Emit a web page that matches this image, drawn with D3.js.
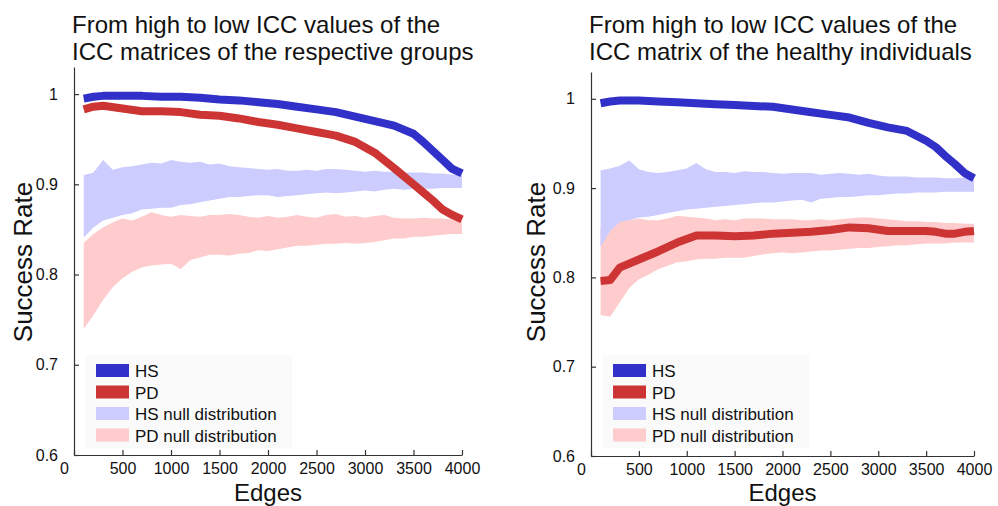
<!DOCTYPE html>
<html>
<head>
<meta charset="utf-8">
<script src="https://cdn.jsdelivr.net/npm/d3@7"></script>
<style>
body { margin: 0; background: #fff; }
svg { display: block; font-family: "Liberation Sans", Arial, Helvetica, sans-serif; }
</style>
</head>
<body>
<svg id="chart" width="998" height="506"></svg>
<script>
// x values (number of edges)
var lineEdges = [100, 200, 300, 500, 700, 900, 1100, 1300, 1500, 1700, 1900, 2100,
    2300, 2500, 2700, 2900, 3100, 3300, 3500, 3600, 3700, 3800, 3900, 4000];
var bandEdges = [100, 200, 300, 400, 500, 600, 700, 800, 900, 1000, 1100, 1200, 1300,
    1400, 1500, 1600, 1700, 1800, 1900, 2000, 2100, 2200, 2300, 2400, 2500, 2600, 2700,
    2800, 2900, 3000, 3100, 3200, 3300, 3400, 3500, 3600, 3700, 3800, 3900, 4000];

// left panel: ICC matrices of the respective groups
var leftHS = [0.995, 0.997, 0.998, 0.998, 0.998, 0.997, 0.997, 0.996, 0.994, 0.993, 0.991, 0.989,
    0.986, 0.983, 0.980, 0.975, 0.970, 0.965, 0.956, 0.947, 0.937, 0.927, 0.917, 0.912];
var leftPD = [0.983, 0.986, 0.987, 0.984, 0.981, 0.981, 0.980, 0.977, 0.976, 0.973, 0.969, 0.966,
    0.962, 0.958, 0.954, 0.947, 0.935, 0.918, 0.900, 0.891, 0.882, 0.872, 0.866, 0.861];
var leftHSNullHi = [0.910, 0.913, 0.927, 0.916, 0.919, 0.920, 0.922, 0.924, 0.923, 0.927, 0.925,
    0.924, 0.925, 0.922, 0.923, 0.920, 0.919, 0.918, 0.917, 0.916, 0.917, 0.915, 0.915, 0.916,
    0.915, 0.917, 0.917, 0.916, 0.915, 0.914, 0.915, 0.914, 0.914, 0.913, 0.913, 0.913, 0.912,
    0.912, 0.911, 0.910];
var leftHSNullLo = [0.841, 0.852, 0.860, 0.863, 0.866, 0.868, 0.872, 0.873, 0.874, 0.874, 0.877,
    0.878, 0.880, 0.882, 0.884, 0.886, 0.886, 0.887, 0.888, 0.888, 0.886, 0.887, 0.888, 0.889,
    0.890, 0.891, 0.890, 0.891, 0.892, 0.893, 0.892, 0.894, 0.895, 0.894, 0.895, 0.895, 0.895,
    0.896, 0.896, 0.896];
var leftPDNullHi = [0.835, 0.845, 0.852, 0.858, 0.862, 0.860, 0.864, 0.869, 0.866, 0.864, 0.866,
    0.865, 0.864, 0.866, 0.866, 0.867, 0.866, 0.864, 0.863, 0.865, 0.863, 0.864, 0.866, 0.864,
    0.863, 0.866, 0.867, 0.864, 0.865, 0.863, 0.865, 0.866, 0.863, 0.862, 0.862, 0.863, 0.862,
    0.862, 0.861, 0.861];
var leftPDNullLo = [0.740, 0.755, 0.772, 0.786, 0.796, 0.803, 0.808, 0.810, 0.811, 0.812, 0.806,
    0.816, 0.819, 0.822, 0.822, 0.821, 0.823, 0.824, 0.827, 0.826, 0.828, 0.830, 0.832, 0.832,
    0.833, 0.834, 0.834, 0.835, 0.834, 0.835, 0.836, 0.838, 0.840, 0.840, 0.842, 0.842, 0.843,
    0.844, 0.845, 0.845];

// right panel: ICC matrix of the healthy individuals
var rightHS = [0.995, 0.997, 0.998, 0.998, 0.997, 0.996, 0.995, 0.994, 0.993, 0.992, 0.991, 0.988,
    0.985, 0.982, 0.979, 0.973, 0.968, 0.964, 0.953, 0.946, 0.936, 0.927, 0.917, 0.911];
var rightPD = [0.796, 0.797, 0.811, 0.820, 0.829, 0.839, 0.847, 0.847, 0.846, 0.847, 0.849, 0.850,
    0.851, 0.853, 0.856, 0.855, 0.852, 0.852, 0.852, 0.851, 0.849, 0.849, 0.851, 0.852];
var rightHSNullHi = [0.920, 0.922, 0.925, 0.931, 0.921, 0.918, 0.917, 0.918, 0.920, 0.922, 0.928,
    0.921, 0.918, 0.918, 0.917, 0.919, 0.918, 0.918, 0.917, 0.916, 0.917, 0.917, 0.917, 0.915,
    0.916, 0.917, 0.916, 0.915, 0.916, 0.914, 0.913, 0.913, 0.913, 0.912, 0.912, 0.912, 0.911,
    0.911, 0.912, 0.911];
var rightHSNullLo = [0.834, 0.852, 0.862, 0.864, 0.867, 0.868, 0.870, 0.872, 0.874, 0.876, 0.877,
    0.878, 0.879, 0.880, 0.881, 0.882, 0.883, 0.884, 0.884, 0.885, 0.886, 0.887, 0.884, 0.888,
    0.889, 0.890, 0.890, 0.891, 0.892, 0.892, 0.893, 0.894, 0.894, 0.895, 0.895, 0.895, 0.896,
    0.896, 0.896, 0.896];
var rightPDNullHi = [0.856, 0.861, 0.863, 0.864, 0.866, 0.864, 0.864, 0.866, 0.869, 0.868, 0.867,
    0.866, 0.864, 0.865, 0.864, 0.866, 0.866, 0.866, 0.865, 0.865, 0.865, 0.864, 0.864, 0.865,
    0.864, 0.865, 0.866, 0.867, 0.867, 0.866, 0.865, 0.864, 0.863, 0.863, 0.862, 0.862, 0.861,
    0.861, 0.860, 0.860];
var rightPDNullLo = [0.758, 0.756, 0.772, 0.788, 0.798, 0.803, 0.809, 0.813, 0.817, 0.818, 0.820,
    0.821, 0.821, 0.822, 0.822, 0.822, 0.824, 0.826, 0.827, 0.828, 0.827, 0.828, 0.829, 0.830,
    0.830, 0.831, 0.832, 0.833, 0.833, 0.834, 0.835, 0.836, 0.836, 0.837, 0.838, 0.838, 0.838,
    0.839, 0.839, 0.839];

var xTicks = [0, 500, 1000, 1500, 2000, 2500, 3000, 3500, 4000];
var yTicks = [0.6, 0.7, 0.8, 0.9, 1];
var legendLabels = ['HS', 'PD', 'HS null distribution', 'PD null distribution'];
var titles = [
    ['From high to low ICC values of the', 'ICC matrices of the respective groups'],
    ['From high to low ICC values of the', 'ICC matrix of the healthy individuals']
];

var COLORS = { hs: '#3131c9', pd: '#cd3434', hsNull: '#ccccfe', pdNull: '#fecccc' };
var legendColors = [COLORS.hs, COLORS.pd, COLORS.hsNull, COLORS.pdNull];

var panels = [
    { left: 74, right: 462, top: 67, bottom: 455, ylabelX: 32, title: titles[0],
      hs: leftHS, pd: leftPD, hsHi: leftHSNullHi, hsLo: leftHSNullLo, pdHi: leftPDNullHi, pdLo: leftPDNullLo },
    { left: 591, right: 974, top: 72, bottom: 456, ylabelX: 545, title: titles[1],
      hs: rightHS, pd: rightPD, hsHi: rightHSNullHi, hsLo: rightHSNullLo, pdHi: rightPDNullHi, pdLo: rightPDNullLo }
];

var svg = d3.select('#chart');

panels.forEach(function(p) {
    var x = d3.scaleLinear().domain([0, 4000]).range([p.left, p.right]);
    var y = d3.scaleLinear().domain([0.6, 1.03]).range([p.bottom, p.top]);
    var g = svg.append('g');

    // Null distribution bands
    var area = function(hi, lo) {
        return d3.area()
            .x(function(d, i) { return x(bandEdges[i]); })
            .y0(function(d, i) { return y(lo[i]); })
            .y1(function(d, i) { return y(hi[i]); })(hi);
    };
    g.append('path').attr('d', area(p.pdHi, p.pdLo)).attr('fill', COLORS.pdNull);
    g.append('path').attr('d', area(p.hsHi, p.hsLo)).attr('fill', COLORS.hsNull);

    // Success rate lines
    var line = d3.line()
        .x(function(d, i) { return x(lineEdges[i]); })
        .y(function(d) { return y(d); });
    [[p.hs, COLORS.hs], [p.pd, COLORS.pd]].forEach(function(s) {
        g.append('path')
            .attr('d', line(s[0]))
            .attr('fill', 'none')
            .attr('stroke', s[1])
            .attr('stroke-width', 8)
            .attr('stroke-linejoin', 'round');
    });

    // Axes, MATLAB style: inward ticks, no box
    var xAxis = d3.axisBottom(x).tickValues(xTicks).tickSizeInner(-5).tickSizeOuter(0).tickPadding(8)
        .tickFormat(d3.format('d'));
    var gx = g.append('g')
        .attr('transform', 'translate(0,' + p.bottom + ')')
        .call(xAxis);
    gx.selectAll('.tick text').filter(function(d) { return d === 0; }).attr('dx', -10);

    var yAxis = d3.axisLeft(y).tickValues(yTicks).tickSizeInner(-5).tickSizeOuter(0).tickPadding(16)
        .tickFormat(function(d) { return d === 1 ? '1' : d.toFixed(1); });
    var gy = g.append('g')
        .attr('transform', 'translate(' + p.left + ',0)')
        .call(yAxis);

    [gx, gy].forEach(function(ax) {
        ax.select('.domain').attr('stroke', '#333').attr('stroke-width', 1.2);
        ax.selectAll('.tick line').attr('stroke', '#333').attr('stroke-width', 1.2);
        ax.selectAll('.tick text').attr('fill', '#111').style('font-size', '16px')
            .style('font-family', '"Liberation Sans", Arial, sans-serif');
    });

    // Titles
    p.title.forEach(function(t, i) {
        g.append('text')
            .attr('x', p.left - 2)
            .attr('y', 33 + i * 27)
            .style('font-size', '24px')
            .attr('fill', '#111')
            .text(t);
    });

    // Axis labels
    g.append('text')
        .attr('x', (p.left + p.right) / 2)
        .attr('y', 501)
        .attr('text-anchor', 'middle')
        .style('font-size', '24px')
        .attr('fill', '#111')
        .text('Edges');
    g.append('text')
        .attr('transform', 'translate(' + p.ylabelX + ',262) rotate(-90)')
        .attr('text-anchor', 'middle')
        .style('font-size', '26px')
        .attr('fill', '#111')
        .text('Success Rate');

    // Legend
    var lg = g.append('g').attr('transform', 'translate(' + (p.left + 22) + ',364)');
    lg.append('rect')
        .attr('x', -10).attr('y', -9).attr('width', 206).attr('height', 93)
        .attr('fill', '#fafafa');
    legendLabels.forEach(function(label, i) {
        var row = lg.append('g').attr('transform', 'translate(0,' + (i * 21.5) + ')');
        row.append('rect')
            .attr('x', 0).attr('y', 0).attr('width', 33).attr('height', 13)
            .attr('fill', legendColors[i]);
        row.append('text')
            .attr('x', 39).attr('y', 13)
            .style('font-size', '17px')
            .attr('fill', '#111')
            .text(label);
    });
});
</script>
</body>
</html>
